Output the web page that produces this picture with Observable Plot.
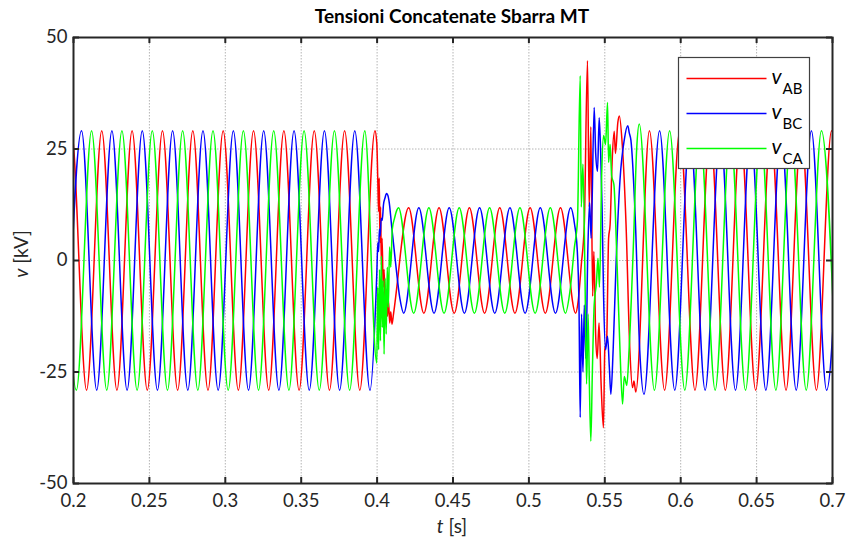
<!DOCTYPE html>
<html><head><meta charset="utf-8">
<script src="https://cdn.jsdelivr.net/npm/d3@7"></script>
<script src="https://cdn.jsdelivr.net/npm/@observablehq/plot@0.6"></script>
<style>
body{margin:0;background:#fff;}
#wrap{position:relative;width:846px;height:540px;font-family:Lato,sans-serif;color:#262626;}
#title{height:22px;line-height:32px;width:846px;text-align:center;font-weight:bold;font-size:19px;color:#000;overflow:visible;position:relative;z-index:1;}
#title span{display:inline-block;transform:translateX(29px);}
#over{position:absolute;left:0;top:0;pointer-events:none;}
</style></head><body>
<div id="wrap">
<div id="title"><span>Tensioni Concatenate Sbarra MT</span></div>
<div id="chart"></div>
<svg id="over" width="846" height="540"></svg>
</div>
<script>
// ---- data ----
const xTicks = [0.2, 0.25, 0.3, 0.35, 0.4, 0.45, 0.5, 0.55, 0.6, 0.65, 0.7];
const xTickLabels = ["0.2","0.25","0.3","0.35","0.4","0.45","0.5","0.55","0.6","0.65","0.7"];
const yTicks = [-50, -25, 0, 25, 50];
const yTickLabels = ["-50","-25","0","25","50"];
const seriesNames = ["AB","BC","CA"];
const seriesColors = ["#ff0000","#0000ff","#00ff00"];

// v_AB [t (s), v (kV)] : peaks, troughs and transient points
const vAB = [
[0.1886,-29.1],[0.1986,29.1],[0.2086,-29.1],[0.2186,29.1],[0.2286,-29.1],[0.2386,29.1],[0.2486,-29.1],[0.2586,29.1],[0.2686,-29.1],[0.2786,29.1],[0.2886,-29.1],
[0.2986,29.1],[0.3086,-29.1],[0.3186,29.1],[0.3286,-29.1],[0.3386,29.1],[0.3486,-29.1],[0.3586,29.1],[0.3686,-29.1],[0.3786,29.1],[0.3886,-29.1],[0.3986,29.1],
[0.3998,26.3],[0.4005,17.5],[0.4010,11],[0.4014,18.5],[0.4019,4],[0.4023,12],[0.4028,-1],[0.4033,5],[0.4040,-6],[0.4046,-2],[0.4053,-10],[0.4060,-6.5],
[0.4068,-12.5],[0.4075,-9],[0.4083,-14],[0.4090,-11.5],[0.4098,-14.3],[0.4108,-12],
[0.4208,11.8],[0.4308,-11.8],[0.4408,11.8],[0.4508,-11.8],[0.4608,11.8],[0.4708,-11.8],[0.4808,11.8],[0.4908,-11.8],[0.5008,11.8],[0.5108,-11.8],[0.5208,11.8],[0.5308,-11.8],
[0.5325,-9],[0.5345,-1],[0.5365,8],[0.5386,44.8],[0.5397,12],[0.5408,30],[0.5420,-8],[0.5428,2],[0.5440,-17],[0.5450,-22],[0.5462,-14],[0.5476,-28],[0.5491,-37.5],
[0.5500,-20],[0.5512,-18],[0.5525,5],[0.5535,8],[0.5548,22],[0.5562,29],[0.5570,24],[0.5586,31],[0.5596,32.4],[0.5615,26],[0.5640,8],[0.5665,-20],[0.5682,-28.5],
[0.5692,-27],[0.5704,-29.5],
[0.5794,29.1],[0.5894,-29.1],[0.5994,29.1],[0.6094,-29.1],[0.6194,29.1],[0.6294,-29.1],[0.6394,29.1],[0.6494,-29.1],[0.6594,29.1],[0.6694,-29.1],[0.6794,29.1],
[0.6894,-29.1],[0.6994,29.1],[0.7094,-29.1]
];
// v_BC
const vBC = [
[0.1953,-29.1],[0.2053,29.1],[0.2153,-29.1],[0.2253,29.1],[0.2353,-29.1],[0.2453,29.1],[0.2553,-29.1],[0.2653,29.1],[0.2753,-29.1],[0.2853,29.1],[0.2953,-29.1],
[0.3053,29.1],[0.3153,-29.1],[0.3253,29.1],[0.3353,-29.1],[0.3453,29.1],[0.3553,-29.1],[0.3653,29.1],[0.3753,-29.1],[0.3853,29.1],[0.3953,-29.1],
[0.3998,-3],[0.4005,4],[0.4010,2],[0.4015,7],[0.4020,5.5],[0.4027,9.5],[0.4034,9],[0.4042,12.5],[0.4052,14],[0.4062,15],[0.4070,14.7],[0.4080,13],[0.4095,8],
[0.4120,0],[0.4150,-8.5],[0.4175,-11.8],
[0.4275,11.8],[0.4375,-11.8],[0.4475,11.8],[0.4575,-11.8],[0.4675,11.8],[0.4775,-11.8],[0.4875,11.8],[0.4975,-11.8],[0.5075,11.8],[0.5175,-11.8],[0.5275,11.8],
[0.5300,8.3],[0.5318,2.6],[0.5330,-10],[0.5338,-35.2],[0.5347,-12],[0.5356,-25],[0.5365,-10],[0.5375,-22],[0.5388,2],[0.5400,13],[0.5410,5],[0.5430,34.3],
[0.5440,24],[0.5452,20],[0.5463,32],[0.5472,25],[0.5482,12],[0.5492,-8],[0.5505,-20],[0.5518,-17],[0.5530,-24],[0.5540,-30],[0.5555,-20],[0.5575,0],
[0.5600,18],[0.5628,27],[0.5651,30.2],[0.5662,28.5],[0.5672,27],[0.5700,10],[0.5730,-20],[0.5758,-30],
[0.5861,29.1],[0.5961,-29.1],[0.6061,29.1],[0.6161,-29.1],[0.6261,29.1],[0.6361,-29.1],[0.6461,29.1],[0.6561,-29.1],[0.6661,29.1],[0.6761,-29.1],[0.6861,29.1],
[0.6961,-29.1],[0.7061,29.1]
];
// v_CA
const vCA = [
[0.1919,29.1],[0.2019,-29.1],[0.2119,29.1],[0.2219,-29.1],[0.2319,29.1],[0.2419,-29.1],[0.2519,29.1],[0.2619,-29.1],[0.2719,29.1],[0.2819,-29.1],[0.2919,29.1],
[0.3019,-29.1],[0.3119,29.1],[0.3219,-29.1],[0.3319,29.1],[0.3419,-29.1],[0.3519,29.1],[0.3619,-29.1],[0.3719,29.1],[0.3819,-29.1],[0.3919,29.1],
[0.3998,-23],[0.4004,-6],[0.4010,-20],[0.4016,-2],[0.4022,-18],[0.4028,1],[0.4034,-15],[0.4040,-4.5],[0.4046,-21],[0.4053,-4],[0.4060,-16.5],[0.4067,-1.5],
[0.4074,-10.5],[0.4082,3],[0.4090,-1.5],[0.4100,7],[0.4115,9.5],[0.4130,11.3],[0.4141,11.8],
[0.4241,-11.8],[0.4341,11.8],[0.4441,-11.8],[0.4541,11.8],[0.4641,-11.8],[0.4741,11.8],[0.4841,-11.8],[0.4941,11.8],[0.5041,-11.8],[0.5141,11.8],[0.5241,-11.8],
[0.5270,-7],[0.5300,3],[0.5320,9],[0.5338,41.4],[0.5345,12],[0.5356,21.6],[0.5370,-5],[0.5380,-27.7],[0.5390,-12],[0.5398,-27],[0.5408,-40.5],[0.5418,-25],
[0.5430,-10],[0.5445,-5],[0.5455,0.5],[0.5465,-6],[0.5480,20],[0.5492,28],[0.5505,26],[0.5518,35.4],[0.5525,22],[0.5535,26],[0.5545,19],[0.5560,17],[0.5580,0],
[0.5600,-20],[0.5617,-32.2],[0.5628,-26],[0.5645,-28],[0.5660,-20],[0.5690,5],[0.5710,25],[0.5727,30.6],
[0.5827,-29.1],[0.5927,29.1],[0.6027,-29.1],[0.6127,29.1],[0.6227,-29.1],[0.6327,29.1],[0.6427,-29.1],[0.6527,29.1],[0.6627,-29.1],[0.6727,29.1],[0.6827,-29.1],
[0.6927,29.1],[0.7027,-29.1]
];

// ---- layout ----
const W = 846, H = 518, mL = 73, mR = 14, mT = 15, mB = 57;
const fw = W - mL - mR, fh = H - mT - mB;
const xLab = new Map(xTicks.map((d, i) => [d, xTickLabels[i]]));
const yLab = new Map(yTicks.map((d, i) => [d, yTickLabels[i]]));
const series = [vAB, vBC, vCA];
const ink = "#262626";
const gridStyle = {stroke: "#b4b4b4", strokeOpacity: 1, strokeWidth: 1, strokeDasharray: "1.5,1.5"};

const chart = Plot.plot({
  width: W, height: H,
  marginLeft: mL, marginRight: mR, marginTop: mT, marginBottom: mB,
  style: {fontFamily: "Lato, sans-serif", fontSize: "18.5px", color: ink, background: "white"},
  x: {domain: [0.2, 0.7]},
  y: {domain: [-50, 50]},
  marks: [
    Plot.gridX(xTicks.slice(1, -1), gridStyle),
    Plot.gridY(yTicks.slice(1, -1), gridStyle),
    ...series.map((s, i) => Plot.line(s, {x: d => d[0], y: d => d[1], stroke: seriesColors[i], strokeWidth: 1.5, curve: "monotone-x", clip: true})),
    Plot.tickY(yTicks, {y: d => d, insetRight: fw - 6, stroke: ink, strokeWidth: 2}),
    Plot.tickY(yTicks, {y: d => d, insetLeft: fw - 6, stroke: ink, strokeWidth: 2}),
    Plot.tickX(xTicks, {x: d => d, insetTop: fh - 6, stroke: ink, strokeWidth: 2}),
    Plot.tickX(xTicks, {x: d => d, insetBottom: fh - 6, stroke: ink, strokeWidth: 2}),
    Plot.frame({stroke: ink, strokeWidth: 2}),
    Plot.axisX(xTicks, {tickSize: 0, tickPadding: 10, tickFormat: d => xLab.get(d), label: null}),
    Plot.axisY(yTicks, {tickSize: 0, tickPadding: 6, tickFormat: d => yLab.get(d), label: null})
  ]
});
document.getElementById("chart").appendChild(chart);

// ---- overlay: axis titles and legend ----
const over = d3.select("#over");
const xt = over.append("text").attr("x", 452).attr("y", 533).attr("text-anchor", "middle")
  .attr("font-family", "Lato, sans-serif").attr("font-size", 19).attr("fill", ink);
xt.append("tspan").attr("font-style", "italic").text("t");
xt.append("tspan").text(" [s]");
const yt = over.append("text").attr("transform", "translate(28,254) rotate(-90)").attr("text-anchor", "middle")
  .attr("font-family", "Lato, sans-serif").attr("font-size", 19).attr("fill", ink);
yt.append("tspan").attr("font-style", "italic").text("v");
yt.append("tspan").text(" [kV]");

const lg = over.append("g").attr("transform", "translate(678.5,57.5)");
lg.append("rect").attr("width", 131).attr("height", 111).attr("fill", "white").attr("stroke", "#404040").attr("stroke-width", 1.2);
seriesNames.forEach((n, i) => {
  const y = 21 + i * 35;
  lg.append("line").attr("x1", 8).attr("x2", 88).attr("y1", y).attr("y2", y).attr("stroke", seriesColors[i]).attr("stroke-width", 1.5);
  const t = lg.append("text").attr("x", 93).attr("y", y + 5).attr("font-family", "Lato, sans-serif").attr("fill", "#000");
  t.append("tspan").attr("font-style", "italic").attr("font-size", 21).text("v");
  t.append("tspan").attr("font-size", 15).attr("dy", 10).attr("dx", 1).text(n);
});
</script>
</body></html>
